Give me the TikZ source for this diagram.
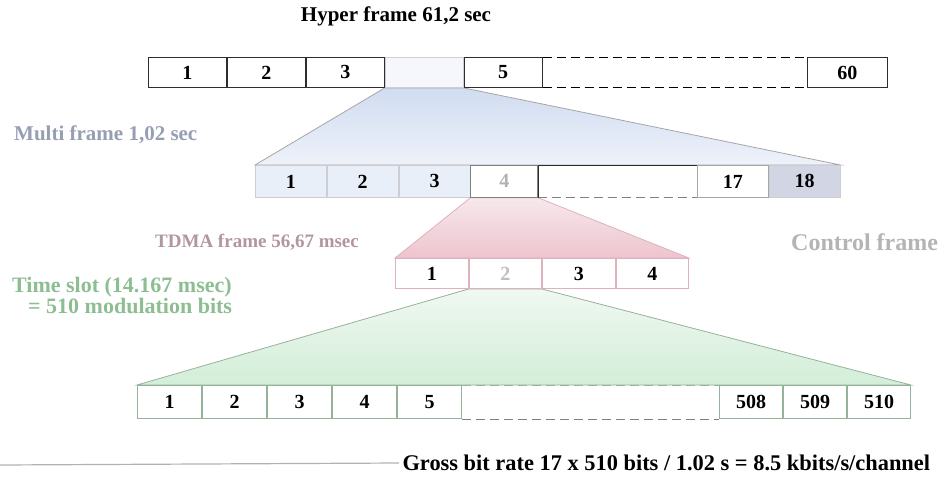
\documentclass[tikz,border=0pt]{standalone}
\usepackage{fontspec}
\setmainfont{Liberation Serif}
\usetikzlibrary{positioning,backgrounds,calc}
\definecolor{framegray}{RGB}{45,45,45}
\definecolor{fadeline}{RGB}{205,205,210}
\definecolor{multiblue}{RGB}{150,158,178}
\definecolor{bluefillA}{RGB}{208,220,240}
\definecolor{bluefillB}{RGB}{238,242,250}
\definecolor{bluecell}{RGB}{232,239,249}
\definecolor{cell18}{RGB}{210,214,228}
\definecolor{tdmapink}{RGB}{178,150,158}
\definecolor{pinkline}{RGB}{222,178,188}
\definecolor{pinkfillA}{RGB}{246,232,236}
\definecolor{pinkfillB}{RGB}{238,196,206}
\definecolor{slotgreen}{RGB}{140,190,145}
\definecolor{greenline}{RGB}{150,178,155}
\definecolor{greenfillA}{RGB}{240,248,242}
\definecolor{greenfillB}{RGB}{210,238,216}
\definecolor{ctrlgray}{RGB}{180,180,180}
\newcommand{\cellfont}{\fontsize{20}{22}\selectfont\bfseries}
\tikzset{
  hcell/.style ={rectangle, draw=framegray, line width=0.9pt, minimum width=78pt,
                 minimum height=30pt, inner sep=0pt, font=\cellfont},
  mcell/.style ={rectangle, draw=fadeline, line width=0.8pt, fill=bluecell, minimum width=71pt,
                 minimum height=32pt, inner sep=0pt, font=\cellfont},
  tcell/.style ={rectangle, draw=pinkline, line width=1pt, fill=white, minimum width=72.5pt,
                 minimum height=30pt, inner sep=0pt, font=\cellfont},
  scell/.style ={rectangle, draw=greenline, line width=1pt, fill=white, minimum width=64pt,
                 minimum height=33pt, inner sep=0pt, font=\cellfont},
  lbl/.style   ={font=\fontsize{21}{23}\selectfont\bfseries, inner sep=0pt, align=left},
  gap/.style   ={line width=0.9pt, dash pattern=on 9pt off 5pt},
}
\begin{document}
\begin{tikzpicture}[x=1pt,y=-1pt]
\useasboundingbox (0,0) rectangle (948,488);

% hyper frame
\node[font=\fontsize{21}{24}\selectfont\bfseries] (hyper) at (396,16) {Hyper frame 61,2 sec};
\node[hcell, anchor=north west] (h1) at (148,57) {1};
\node[hcell, right=0pt of h1] (h2) {2};
\node[hcell, right=0pt of h2] (h3) {3};
\node[hcell, draw=fadeline, fill=bluefillB!60!white, right=0pt of h3] (h4) {};
\node[hcell, right=0pt of h4] (h5) {5};
\node[hcell, minimum width=80pt, anchor=north west] (h60) at (807,57) {60};
\draw[gap] (h5.north east) -- (h60.north west);
\draw[gap] (h5.south east) -- (h60.south west);

% multi frame
\node[lbl, text=multiblue, anchor=west] (mlbl) at (14,135) {Multi frame 1,02 sec};
\node[mcell, anchor=north west] (m1) at (255,165) {1};
\node[mcell, right=0pt of m1] (m2) {2};
\node[mcell, right=0pt of m2] (m3) {3};
\node[mcell, fill=white, draw=gray, minimum width=67pt, text=gray!60, right=0pt of m3] (m4) {4};
\node[mcell, fill=white, draw=gray!70, minimum width=71pt, anchor=north west] (m17) at (697,165) {17};
\node[mcell, fill=cell18, right=0pt of m17] (m18) {18};
\draw[framegray, line width=0.9pt] (m4.north east) -- (m17.north west);
\draw[gap, draw=gray] (m4.south east) -- (m17.south west);
\draw[framegray, line width=1pt] (m4.north east) -- (m4.south east);

% tdma frame
\node[lbl, text=tdmapink, font=\fontsize{19}{22}\selectfont\bfseries, anchor=west] (tlbl) at (155,242) {TDMA frame 56,67 msec};
\node[lbl, text=ctrlgray, font=\fontsize{24}{26}\selectfont\bfseries, anchor=west] (clbl) at (791,242) {Control frame};
\node[tcell, anchor=north west] (t1) at (395,258) {1};
\node[tcell, text=gray!50, right=0pt of t1] (t2) {2};
\node[tcell, right=0pt of t2] (t3) {3};
\node[tcell, right=0pt of t3] (t4) {4};

% time slot
\node[lbl, text=slotgreen, font=\fontsize{22}{21}\selectfont\bfseries, anchor=west] (slbl) at (12,295) {Time slot (14.167 msec)\\\hspace{16pt}= 510 modulation bits};
\node[scell, anchor=north west] (s1) at (137,385) {1};
\node[scell, right=0pt of s1] (s2) {2};
\node[scell, right=0pt of s2] (s3) {3};
\node[scell, right=0pt of s3] (s4) {4};
\node[scell, right=0pt of s4] (s5) {5};
\node[scell, minimum width=63pt, anchor=north west] (s508) at (719,385) {508};
\node[scell, minimum width=63pt, right=0pt of s508] (s509) {509};
\node[scell, minimum width=63pt, right=0pt of s509] (s510) {510};
\draw[gap, draw=greenline] (s5.north east) -- (s508.north west);
\draw[gap, draw=gray] (s5.south east) -- (s508.south west);

% gross bit rate
\node[font=\fontsize{22.4}{24}\selectfont\bfseries, anchor=west] (gross) at (399,463) {Gross bit rate 17 x 510 bits / 1.02 s = 8.5 kbits/s/channel};
\coordinate (rulestart) at (0,465);
\draw[gray!60, line width=1.2pt] (rulestart) -- (gross.west);

\begin{scope}[on background layer]
  \shade[top color=bluefillA, bottom color=bluefillB, draw=gray!70, line width=0.8pt]
    (h4.south west) -- (m1.north west) -- (m18.north east) -- (h4.south east) -- cycle;
  \shade[top color=pinkfillA, bottom color=pinkfillB, draw=pinkline, line width=0.8pt]
    (m4.south west) -- (t1.north west) -- (t4.north east) -- (m4.south east) -- cycle;
  \shade[top color=greenfillA, bottom color=greenfillB, draw=greenline, line width=0.8pt]
    (t2.south west) -- (s1.north west) -- (s510.north east) -- (t2.south east) -- cycle;
\end{scope}
\end{tikzpicture}
\end{document}
